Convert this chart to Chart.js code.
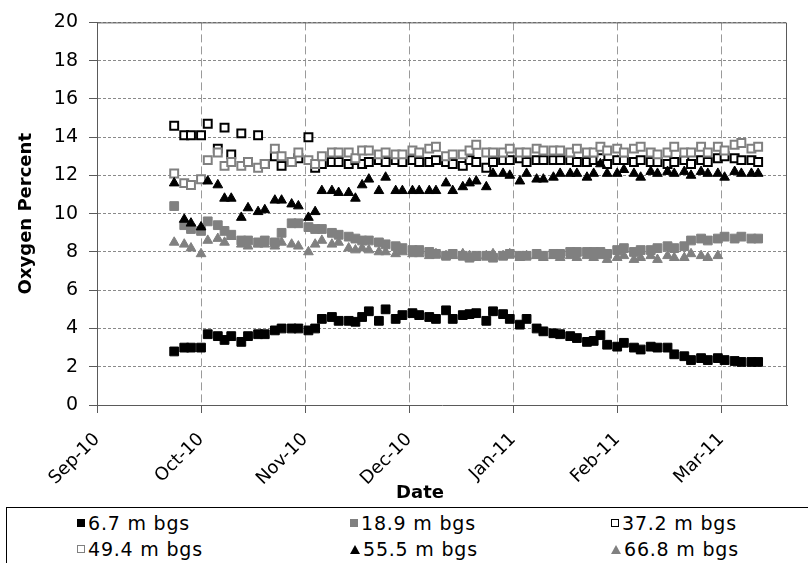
<!DOCTYPE html>
<html>
<head>
<meta charset="utf-8">
<script src="https://cdn.jsdelivr.net/npm/chart.js@4.4.1/dist/chart.umd.min.js"></script>
<style>
    body { margin: 0; background: #fff; overflow: hidden; }
    #wrap { position: relative; width: 808px; height: 563px; }
    #legend {
        position: absolute; left: 6px; top: 507px; width: 840px; height: 80px;
        border: 1px solid #000; box-sizing: border-box; background: #fff;
        display: grid; grid-template-columns: 273px 261px 240px; grid-auto-rows: 26px;
        padding: 2px 0 0 70px;
        font: 19px "DejaVu Sans", sans-serif; letter-spacing: 0.8px; color: #000;
    }
    .item { display: flex; align-items: center; white-space: nowrap; }
    .mark { display: inline-block; margin-right: 3px; box-sizing: border-box; }
</style>
</head>
<body>
<div id="wrap">
    <canvas id="oxygen-chart" width="808" height="563"></canvas>
    <div id="legend"></div>
</div>
<script>
// sampling days, counted from 1 Sep 2010
const sampleDays = [23, 26, 28, 31, 33, 36, 38, 40, 43, 45, 48, 50, 53, 55, 58, 60, 63, 65, 67, 70,
    72, 75, 77, 79, 81, 84, 86, 89, 91, 94, 96, 99, 101, 104, 106, 109, 111, 113, 116, 118,
    121, 123, 126, 128, 131, 133, 136, 138, 141, 143, 146, 148, 150, 152, 155, 157, 160, 162, 165, 167,
    170, 172, 175, 177, 180, 182, 185, 187, 190, 192, 195, 197];

const tickLabels = ['Sep-10', 'Oct-10', 'Nov-10', 'Dec-10', 'Jan-11', 'Feb-11', 'Mar-11'];

const depthLabels = ['6.7 m bgs', '18.9 m bgs', '37.2 m bgs', '49.4 m bgs', '55.5 m bgs', '66.8 m bgs'];

const o2At6_7 = [2.8, 3.0, 3.0, 3.0, 3.7, 3.6, 3.4, 3.6, 3.3, 3.6, 3.7, 3.7, 3.9, 4.0, 4.0, 4.0, 3.9, 4.0, 4.5, 4.6,
    4.4, 4.4, 4.35, 4.6, 4.9, 4.4, 5.0, 4.5, 4.7, 4.8, 4.7, 4.6, 4.5, 4.95, 4.5, 4.7, 4.75, 4.8, 4.4, 4.9,
    4.75, 4.5, 4.2, 4.5, 4.0, 3.85, 3.75, 3.7, 3.6, 3.5, 3.3, 3.35, 3.65, 3.15, 3.05, 3.25, 3.0, 2.9, 3.05, 3.0,
    3.0, 2.65, 2.55, 2.35, 2.45, 2.35, 2.45, 2.35, 2.3, 2.25, 2.25, 2.25];

const o2At18_9 = [10.4, 9.4, 9.2, 9.1, 9.6, 9.4, 9.1, 8.9, 8.6, 8.6, 8.5, 8.6, 8.5, 9.0, 9.5, 9.5, 9.3, 9.2, 9.2, 9.0,
    8.9, 8.8, 8.7, 8.6, 8.6, 8.5, 8.4, 8.3, 8.2, 8.1, 8.1, 8.0, 7.9, 7.8, 7.9, 7.8, 7.7, 7.8, 7.8, 7.7,
    7.8, 7.9, 7.8, 7.8, 7.9, 7.8, 7.9, 7.9, 8.0, 8.0, 8.0, 8.0, 8.0, 7.9, 8.1, 8.2, 8.0, 8.1, 8.1, 8.2,
    8.3, 8.2, 8.3, 8.6, 8.7, 8.6, 8.7, 8.8, 8.7, 8.8, 8.7, 8.7];

const o2At37_2 = [14.6, 14.1, 14.1, 14.1, 14.7, 13.4, 14.5, 13.1, 14.2, 12.7, 14.1, 12.6, 13.0, 12.5, 12.7, 12.9, 14.0, 12.4, 12.6, 12.7,
    12.7, 12.6, 12.8, 12.6, 12.7, 12.8, 12.7, 12.8, 12.7, 12.8, 12.7, 12.7, 12.8, 12.7, 12.6, 12.5, 12.8, 12.7, 12.4, 12.7,
    12.8, 12.8, 12.9, 12.7, 12.8, 12.8, 12.8, 12.8, 12.8, 12.7, 12.7, 12.8, 12.9, 12.6, 12.8, 12.8, 12.7, 12.8, 12.7, 12.7,
    12.6, 12.7, 12.8, 12.6, 12.8, 12.7, 12.9, 13.0, 12.9, 12.8, 12.8, 12.7];

const o2At49_4 = [12.1, 11.6, 11.5, 11.8, 12.8, 13.2, 12.5, 12.7, 12.5, 12.7, 12.4, 12.6, 13.4, 13.0, 12.7, 13.2, 12.8, 12.6, 13.0, 13.2,
    13.2, 13.2, 12.9, 13.3, 13.3, 13.1, 13.2, 13.1, 13.1, 13.3, 13.2, 13.4, 13.5, 13.0, 13.1, 13.1, 13.3, 13.6, 13.2, 13.2,
    13.2, 13.4, 13.2, 13.2, 13.4, 13.3, 13.3, 13.3, 13.2, 13.4, 13.2, 13.2, 13.5, 13.3, 13.4, 13.2, 13.4, 13.5, 13.2, 13.1,
    13.2, 13.5, 13.2, 13.2, 13.5, 13.2, 13.5, 13.3, 13.6, 13.7, 13.4, 13.5];

const o2At55_5 = [11.6, 9.7, 9.5, 9.3, 11.7, 11.5, 10.8, 10.8, 9.8, 10.3, 10.1, 10.2, 10.7, 10.7, 10.5, 10.4, 9.8, 10.1, 11.2, 11.2,
    11.1, 11.1, 10.8, 11.5, 11.8, 11.2, 11.9, 11.2, 11.2, 11.2, 11.2, 11.2, 11.2, 11.6, 11.2, 11.4, 11.6, 11.7, 11.4, 12.1,
    12.1, 12.0, 11.7, 12.1, 11.8, 11.8, 11.9, 12.1, 12.1, 12.1, 11.9, 12.1, 12.6, 12.1, 12.1, 12.3, 12.1, 11.9, 12.2, 12.1,
    12.2, 12.1, 12.2, 12.0, 12.2, 12.1, 12.1, 11.9, 12.2, 12.1, 12.1, 12.1];

const o2At66_8 = [8.5, 8.4, 8.2, 7.9, 8.6, 8.7, 8.5, 8.8, 8.4, 8.3, 8.4, 8.4, 8.3, 8.5, 8.4, 8.3, 8.0, 8.4, 8.6, 8.4,
    8.5, 8.2, 8.1, 8.2, 8.1, 8.0, 8.0, 7.9, 8.0, 7.9, 7.9, 7.8, 7.9, 7.8, 7.8, 7.9, 7.8, 7.7, 7.8, 7.9,
    7.8, 7.9, 7.7, 7.8, 7.8, 7.7, 7.8, 7.7, 7.8, 7.7, 7.8, 7.7, 7.8, 7.6, 7.7, 7.8, 7.6, 7.7, 7.8, 7.6,
    7.8, 7.7, 7.7, 7.9, 7.8, 7.7, 7.8, null, null, null, null, null];

const FONT = '"DejaVu Sans", sans-serif';
const GREY = '#808080';

const seriesValues = [o2At6_7, o2At18_9, o2At37_2, o2At49_4, o2At55_5, o2At66_8];
const seriesStyles = [
    {pointStyle: 'rect', fill: '#000', line: '#000', radius: 6.2, width: 1},
    {pointStyle: 'rect', fill: GREY, line: GREY, radius: 6.2, width: 1},
    {pointStyle: 'rect', fill: '#fff', line: '#000', radius: 5.6, width: 2},
    {pointStyle: 'rect', fill: '#fff', line: GREY, radius: 5.6, width: 2},
    {pointStyle: 'triangle', fill: '#000', line: '#000', radius: 5.6, width: 1},
    {pointStyle: 'triangle', fill: GREY, line: GREY, radius: 5.6, width: 1}
];

const datasets = seriesValues.map((values, i) => ({
    label: depthLabels[i],
    data: sampleDays.map((day, j) => ({x: day, y: values[j]})).filter(p => p.y !== null),
    pointStyle: seriesStyles[i].pointStyle,
    backgroundColor: seriesStyles[i].fill,
    borderColor: seriesStyles[i].line,
    pointRadius: seriesStyles[i].radius,
    pointBorderWidth: seriesStyles[i].width,
    showLine: false,
    order: seriesValues.length - i
}));

// plot frame on top/right and the x axis caption
const frame = {
    id: 'frame',
    beforeDatasetsDraw(chart) {
        const {ctx, chartArea} = chart;
        ctx.save();
        ctx.strokeStyle = '#5a5a5a';
        ctx.lineWidth = 1;
        ctx.beginPath();
        ctx.moveTo(chartArea.left, chartArea.top + 0.5);
        ctx.lineTo(chartArea.right - 0.5, chartArea.top + 0.5);
        ctx.lineTo(chartArea.right - 0.5, chartArea.bottom);
        ctx.stroke();
        ctx.restore();
    },
    afterDraw(chart) {
        const {ctx} = chart;
        ctx.save();
        ctx.font = 'bold 18px ' + FONT;
        ctx.fillStyle = '#000';
        ctx.textAlign = 'center';
        ctx.textBaseline = 'middle';
        ctx.fillText('Date', 420, 493);
        ctx.restore();
    }
};

const chart = new Chart(document.getElementById('oxygen-chart').getContext('2d'), {
    type: 'scatter',
    data: {datasets: datasets},
    options: {
        responsive: false,
        animation: false,
        events: [],
        layout: {padding: {top: 15, right: 21, left: 0, bottom: 0}},
        plugins: {legend: {display: false}, tooltip: {enabled: false}},
        scales: {
            x: {
                type: 'linear',
                min: 0,
                max: 205.6,
                afterFit: (scale) => { scale.height = 158; },
                ticks: {
                    stepSize: 31,
                    includeBounds: false,
                    autoSkip: false,
                    maxRotation: 45,
                    minRotation: 45,
                    padding: 16,
                    color: '#000',
                    font: {family: FONT, size: 18},
                    callback: (value) => tickLabels[Math.round(value / 31)]
                },
                grid: {color: '#9a9a9a', tickColor: '#5a5a5a', tickLength: 8, tickBorderDash: []},
                border: {color: '#5a5a5a', width: 1, dash: [8, 4]}
            },
            y: {
                min: 0,
                max: 20,
                afterFit: (scale) => { scale.width = 97; },
                ticks: {
                    stepSize: 2,
                    padding: 11,
                    color: '#000',
                    font: {family: FONT, size: 19}
                },
                title: {
                    display: true,
                    text: 'Oxygen Percent',
                    color: '#000',
                    font: {family: FONT, size: 18, weight: 'bold'},
                    padding: {top: 16, bottom: 0}
                },
                grid: {color: '#8a8a8a', tickColor: '#5a5a5a', tickLength: 8, tickBorderDash: []},
                border: {color: '#5a5a5a', width: 1, dash: [3, 2]}
            }
        }
    },
    plugins: [frame]
});

// legend box under the chart, three entries per row
const legend = document.getElementById('legend');
chart.data.datasets.forEach((ds) => {
    const item = document.createElement('div');
    item.className = 'item';
    const mark = document.createElement('span');
    mark.className = 'mark';
    if (ds.pointStyle === 'triangle') {
        mark.style.width = '0';
        mark.style.height = '0';
        mark.style.borderLeft = '5px solid transparent';
        mark.style.borderRight = '5px solid transparent';
        mark.style.borderBottom = '9px solid ' + ds.borderColor;
    } else {
        mark.style.width = '8px';
        mark.style.height = '8px';
        mark.style.background = ds.backgroundColor;
        mark.style.border = '1px solid ' + ds.borderColor;
    }
    item.appendChild(mark);
    item.appendChild(document.createTextNode(ds.label));
    legend.appendChild(item);
});
</script>
</body>
</html>
